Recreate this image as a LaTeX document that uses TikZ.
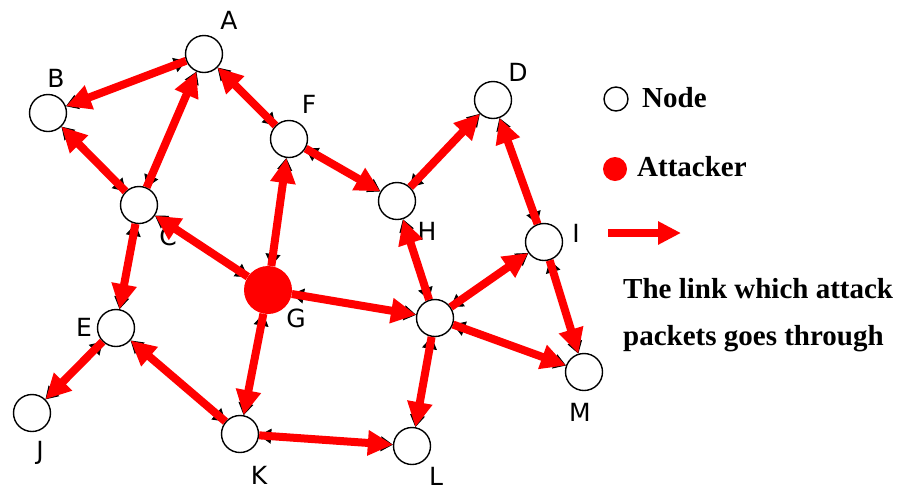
\documentclass[tikz,border=0pt]{standalone}
\usepackage{fontspec}
\setmainfont{Liberation Serif}
\newfontfamily\labfont{DejaVu Sans}
\usetikzlibrary{arrows.meta}

\begin{document}
\begin{tikzpicture}[x=1pt, y=-1pt,
  host/.style={draw, circle, line width=1.4pt, fill=white, minimum size=37pt, inner sep=0pt},
  atk/.style={circle, fill=red, minimum size=48pt, inner sep=0pt},
  lab/.style={font=\labfont\fontsize{25}{28}\selectfont, inner sep=0pt},
  legtxt/.style={font=\bfseries\fontsize{29}{32}\selectfont, inner sep=0pt, anchor=base west},
  flow/.style={draw=red, line width=8pt, -{Triangle[length=25pt, width=24pt]},
    preaction={draw=black, line width=1pt,
      {Triangle[length=12pt, width=15pt]}-{Triangle[length=12pt, width=15pt]}}}
]
  \useasboundingbox (0,0) rectangle (907,491);

  % network nodes
  \node[host] (A) at (204,54) {};
  \node[host] (B) at (48,113) {};
  \node[host] (C) at (139,205) {};
  \node[host] (D) at (493,100) {};
  \node[host] (E) at (116,328) {};
  \node[host] (F) at (289,139) {};
  \node[atk]  (G) at (268,290) {};
  \node[host] (H) at (397,201) {};
  \node[host] (I) at (544,242) {};
  \node[host] (X) at (435,318) {};
  \node[host] (J) at (32,413) {};
  \node[host] (K) at (240,434) {};
  \node[host] (L) at (412,446) {};
  \node[host] (M) at (584,372) {};

  % node names
  \node[lab] (lA) at (229,20) {A};
  \node[lab] (lB) at (56,78) {B};
  \node[lab] (lC) at (168,236) {C};
  \node[lab] (lD) at (518,72) {D};
  \node[lab] (lE) at (84,327) {E};
  \node[lab] (lF) at (309,104) {F};
  \node[lab] (lG) at (296,318) {G};
  \node[lab] (lH) at (427,231) {H};
  \node[lab] (lI) at (576,233) {I};
  \node[lab] (lJ) at (40,453) {J};
  \node[lab] (lK) at (259,475) {K};
  \node[lab] (lL) at (436,476) {L};
  \node[lab] (lM) at (580,412) {M};

  % attack links
  \draw[flow] (A) -- (B);
  \draw[flow] (C) -- (A);
  \draw[flow] (C) -- (B);
  \draw[flow] (F) -- (A);
  \draw[flow] (G) -- (F);
  \draw[flow] (F) -- (H);
  \draw[flow] (H) -- (D);
  \draw[flow] (I) -- (D);
  \draw[flow] (G) -- (C);
  \draw[flow] (C) -- (E);
  \draw[flow] (G) -- (X);
  \draw[flow] (X) -- (H);
  \draw[flow] (X) -- (I);
  \draw[flow] (I) -- (M);
  \draw[flow] (X) -- (M);
  \draw[flow] (X) -- (L);
  \draw[flow] (G) -- (K);
  \draw[flow] (K) -- (E);
  \draw[flow] (E) -- (J);
  \draw[flow] (K) -- (L);

  % legend
  \node[draw, circle, line width=1.4pt, minimum size=24pt, inner sep=0pt] (kNode) at (616,99) {};
  \node[legtxt] (tNode) at (642,107) {Node};
  \node[circle, fill=red, minimum size=24pt, inner sep=0pt] (kAtk) at (615,169) {};
  \node[legtxt] (tAtk) at (637,176) {Attacker};
  \coordinate (kA) at (608,233);
  \coordinate (kB) at (681,233);
  \draw[draw=red, line width=8pt, -{Triangle[length=23pt, width=22pt]}] (kA) -- (kB);
  \node[legtxt] (tLink1) at (623,298) {The link which attack};
  \node[legtxt] (tLink2) at (623,345) {packets goes through};
\end{tikzpicture}
\end{document}
